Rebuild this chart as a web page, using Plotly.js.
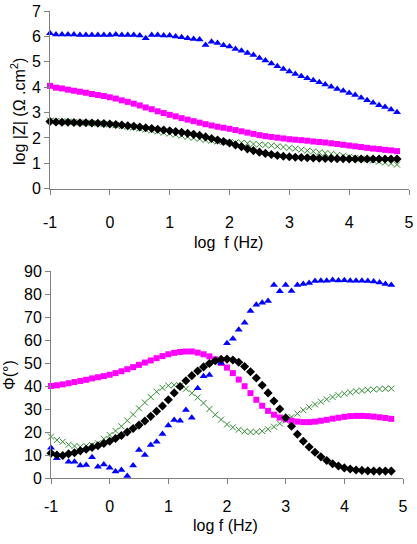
<!DOCTYPE html>
<html>
<head>
<meta charset="utf-8">
<script src="https://cdn.plot.ly/plotly-3.0.1.min.js"></script>
<style>
  html, body { margin: 0; padding: 0; background: #fff; }
  #chart { width: 417px; height: 544px; }
</style>
</head>
<body>
<div id="chart"></div>
<script>
// log10 of frequency (Hz), ten points per decade
const logF = [-1.0,-0.9,-0.8,-0.7,-0.6,-0.5,-0.4,-0.3,-0.2,-0.1,
  0.0,0.1,0.2,0.3,0.4,0.5,0.6,0.7,0.8,0.9,
  1.0,1.1,1.2,1.3,1.4,1.5,1.6,1.7,1.8,1.9,
  2.0,2.1,2.2,2.3,2.4,2.5,2.6,2.7,2.8,2.9,
  3.0,3.1,3.2,3.3,3.4,3.5,3.6,3.7,3.8,3.9,
  4.0,4.1,4.2,4.3,4.4,4.5,4.6,4.7,4.8];

// Bode modulus, log |Z| (ohm.cm2)
const modTriangle = [6.12,6.07,6.07,6.07,6.07,6.05,6.05,6.05,6.05,6.05,
  6.05,6.07,6.05,6.05,6.05,6.03,5.93,6.05,6.05,6.03,
  6.03,6.00,5.97,5.93,5.90,5.88,5.66,5.79,5.74,5.65,
  5.60,5.50,5.43,5.35,5.27,5.15,5.05,4.93,4.82,4.72,
  4.62,4.52,4.43,4.35,4.27,4.19,4.10,4.02,3.93,3.86,
  3.77,3.69,3.58,3.48,3.39,3.29,3.22,3.12,3.01];
const modSquare = [4.05,3.98,3.95,3.90,3.86,3.82,3.78,3.73,3.69,3.65,
  3.60,3.55,3.48,3.42,3.35,3.28,3.20,3.13,3.05,2.98,
  2.91,2.85,2.78,2.72,2.66,2.60,2.54,2.49,2.44,2.40,
  2.36,2.31,2.26,2.21,2.16,2.11,2.07,2.04,2.01,1.98,
  1.95,1.93,1.91,1.89,1.86,1.84,1.82,1.79,1.76,1.73,
  1.70,1.67,1.64,1.61,1.58,1.56,1.53,1.51,1.48];
const modDiamond = [2.65,2.63,2.62,2.62,2.61,2.60,2.60,2.59,2.58,2.57,
  2.55,2.53,2.51,2.48,2.46,2.43,2.40,2.37,2.34,2.31,
  2.28,2.25,2.22,2.18,2.14,2.10,2.04,1.98,1.92,1.86,
  1.80,1.72,1.65,1.57,1.50,1.44,1.39,1.35,1.31,1.28,
  1.26,1.24,1.23,1.22,1.21,1.20,1.19,1.19,1.18,1.18,
  1.17,1.17,1.17,1.17,1.17,1.17,1.17,1.17,1.17];
const modCross = [2.68,2.66,2.65,2.64,2.62,2.61,2.60,2.58,2.57,2.55,
  2.53,2.50,2.47,2.44,2.41,2.37,2.33,2.29,2.25,2.21,
  2.17,2.13,2.09,2.04,2.00,1.96,1.92,1.89,1.86,1.84,
  1.83,1.82,1.81,1.79,1.76,1.74,1.72,1.70,1.67,1.64,
  1.61,1.58,1.54,1.50,1.47,1.43,1.40,1.37,1.33,1.30,
  1.26,1.22,1.18,1.15,1.11,1.07,1.03,0.99,0.95];

// Bode phase angle (degrees)
const phaseTriangle = [13.2,8.6,null,7.1,7.1,5.4,5.7,9.0,4.9,5.9,
  4.5,2.8,3.5,0.9,5.4,12.2,10.0,14.3,15.8,19.1,
  22.8,25.2,24.9,29.6,26.2,39.0,44.2,44.8,50.6,50.0,
  58.6,60.5,64.5,67.5,72.6,75.3,76.2,77.0,83.9,81.2,
  83.9,81.3,83.9,84.3,84.8,85.6,85.8,85.8,86.1,85.9,
  86.0,85.8,85.8,85.8,85.7,85.4,85.0,84.3,83.9];
const phaseSquare = [40.0,40.3,40.7,41.2,41.7,42.2,42.7,43.3,43.8,44.3,
  44.9,45.6,46.4,47.3,48.2,49.2,50.2,51.1,52.1,53.0,
  53.8,54.4,54.8,55.0,55.0,54.5,53.8,52.9,51.6,50.0,
  48.0,45.6,42.8,39.9,36.9,34.0,31.4,29.2,27.5,26.3,
  25.5,24.9,24.5,24.3,24.3,24.5,24.9,25.3,25.8,26.2,
  26.6,26.9,27.0,27.0,26.9,26.7,26.4,26.1,25.7];
const phaseDiamond = [10.8,10.0,9.8,10.5,11.0,11.8,12.5,13.3,14.0,15.0,
  16.0,17.2,18.5,20.0,21.5,23.0,24.8,26.8,29.0,31.3,
  34.0,37.0,39.8,42.3,44.5,46.5,48.3,49.8,51.0,51.6,
  51.7,51.3,50.3,48.5,46.2,43.5,40.3,37.0,33.5,30.0,
  26.2,22.5,19.0,16.0,13.5,11.2,9.2,7.6,6.2,5.2,
  4.4,3.9,3.5,3.3,3.1,3.0,3.0,3.0,3.0];
const phaseCross = [18.0,16.5,15.8,14.5,13.9,13.5,14.0,14.3,15.1,17.0,
  18.7,20.5,22.5,25.0,27.6,30.3,32.8,35.2,37.5,39.2,
  40.2,40.4,40.0,38.8,36.9,35.0,32.6,30.0,27.5,25.4,
  23.3,22.0,21.0,20.3,20.0,20.0,20.4,21.2,22.3,23.7,
  25.0,26.5,28.0,29.5,30.8,32.0,33.2,34.2,35.2,36.0,
  36.7,37.2,37.7,38.0,38.3,38.5,38.7,38.8,38.9];

const xTicks = [-1, 0, 1, 2, 3, 4, 5];

const W = 417, H = 544;
const px = v => v / W;
const py = v => 1 - v / H;

const styles = [
  { symbol: 'triangle-up', size: 7, color: '#0000ff' },
  { symbol: 'square', size: 6, color: '#ff00ff' },
  { symbol: 'diamond', size: 7, color: '#000000' },
  { symbol: 'x-thin-open', size: 6, color: '#2e8b2e', line: { color: '#2e8b2e', width: 1 } }
];

function series(y, st, xa, ya) {
  const marker = { symbol: st.symbol, size: st.size, color: st.color };
  if (st.line) marker.line = st.line;
  return { x: logF, y: y, type: 'scatter', mode: 'markers', marker: marker,
           xaxis: xa, yaxis: ya, hoverinfo: 'skip', cliponaxis: false };
}

const traces = [
  series(modCross, styles[3], 'x', 'y'),
  series(modDiamond, styles[2], 'x', 'y'),
  series(modSquare, styles[1], 'x', 'y'),
  series(modTriangle, styles[0], 'x', 'y'),
  series(phaseCross, styles[3], 'x2', 'y2'),
  series(phaseSquare, styles[1], 'x2', 'y2'),
  series(phaseTriangle, styles[0], 'x2', 'y2'),
  series(phaseDiamond, styles[2], 'x2', 'y2')
];

const family = 'Liberation Sans Narrow, Arial Narrow, Liberation Sans, Arial, sans-serif';
const tickFont = { family: family, size: 16, color: '#000' };
const titleFont = { family: family, size: 16, color: '#000' };

const axisBase = {
  showgrid: false, zeroline: false, showline: true,
  linecolor: '#808080', linewidth: 1,
  ticks: 'outside', ticklen: 5, tickcolor: '#808080', tickwidth: 1,
  tickfont: tickFont, automargin: false, fixedrange: true
};

const layout = {
  width: W, height: H,
  margin: { l: 0, r: 0, t: 0, b: 0 },
  paper_bgcolor: '#fff', plot_bgcolor: '#fff',
  showlegend: false,
  xaxis: Object.assign({}, axisBase, {
    domain: [px(50), px(409)], range: [-1, 5],
    tickvals: xTicks, ticktext: xTicks.map(String),
    anchor: 'y', ticklabelstandoff: 14
  }),
  yaxis: Object.assign({}, axisBase, {
    domain: [py(188.7), py(11)], range: [0, 7], dtick: 1, anchor: 'x'
  }),
  xaxis2: Object.assign({}, axisBase, {
    domain: [px(51), px(403)], range: [-1, 5],
    tickvals: xTicks, ticktext: xTicks.map(String),
    anchor: 'y2', ticklabelstandoff: 9
  }),
  yaxis2: Object.assign({}, axisBase, {
    domain: [py(478), py(271)], range: [0, 90], dtick: 10, anchor: 'x2'
  }),
  annotations: [
    { text: 'log  f (Hz)', xref: 'paper', yref: 'paper', x: px(228), y: py(242),
      xanchor: 'center', yanchor: 'middle', showarrow: false, font: titleFont },
    { text: 'log |Z| (Ω .cm<sup>2</sup>)', xref: 'paper', yref: 'paper', x: px(18), y: py(112),
      xanchor: 'center', yanchor: 'middle', textangle: -90, showarrow: false, font: titleFont },
    { text: 'log f (Hz)', xref: 'paper', yref: 'paper', x: px(226), y: py(525),
      xanchor: 'center', yanchor: 'middle', showarrow: false, font: titleFont },
    { text: 'Φ(°)', xref: 'paper', yref: 'paper', x: px(9), y: py(375),
      xanchor: 'center', yanchor: 'middle', textangle: -90, showarrow: false, font: titleFont }
  ]
};

Plotly.newPlot('chart', traces, layout, { staticPlot: true, displayModeBar: false });
</script>
</body>
</html>
